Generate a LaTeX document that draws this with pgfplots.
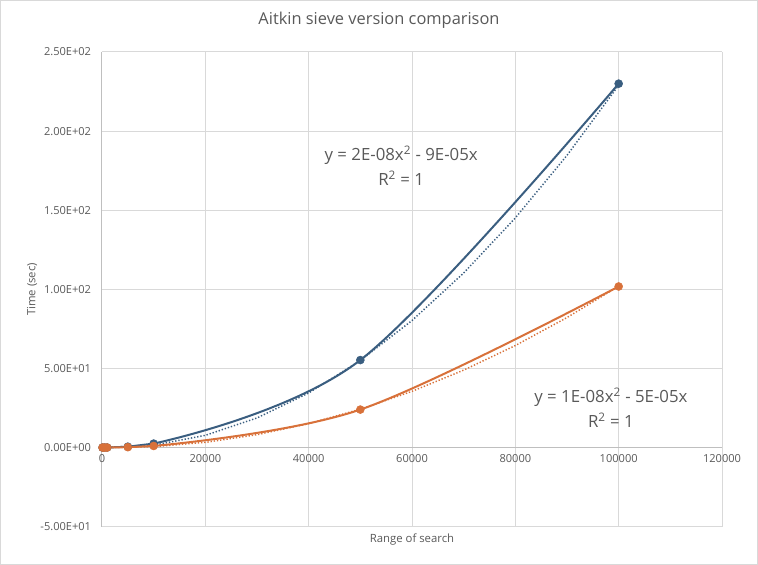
\documentclass[border=0pt]{standalone}
\usepackage{fontspec}
\setmainfont{Open Sans}
\usepackage{pgfplots}
\pgfplotsset{compat=1.18}
\definecolor{clrBlue}{RGB}{58,94,128}
\definecolor{clrOrange}{RGB}{216,113,58}
\definecolor{clrGrid}{RGB}{217,217,217}
\definecolor{clrAxis}{RGB}{191,191,191}
\definecolor{clrText}{RGB}{89,89,89}

% measured data (x = range of search, y = time in sec)
\pgfplotstableread{
x       y
100     0.0002
500     0.005
1000    0.02
5000    0.55
10000   2.5
50000   55.3
100000  230
}\blueData
\pgfplotstableread{
x       y
100     0.0001
500     0.003
1000    0.01
5000    0.25
10000   1.0
50000   24
100000  101.8
}\orangeData
% polynomial trendlines, values typed at 10000 steps
\pgfplotstableread{
x       y
0       0
10000   1.48
20000   7.72
30000   18.72
40000   34.48
50000   55.0
60000   80.28
70000   110.32
80000   145.12
90000   184.68
100000  229.0
}\blueTrend
\pgfplotstableread{
x       y
0       0
10000   0.57
20000   3.28
30000   8.13
40000   15.12
50000   24.25
60000   35.52
70000   48.93
80000   64.48
90000   82.17
100000  102.0
}\orangeTrend

\begin{document}
\begin{tikzpicture}
\begin{axis}[
  scale only axis, width=465pt, height=356pt,
  xmin=0, xmax=120000, ymin=-50, ymax=250,
  axis x line=middle, axis y line=left,
  axis line style={-, clrAxis, line width=0.75pt},
  hide obscured x ticks=false, hide obscured y ticks=false,
  major tick length=0pt,
  scaled x ticks=false, scaled y ticks=false,
  xtick={0,20000,40000,60000,80000,100000,120000},
  xticklabels={0,20000,40000,60000,80000,100000,120000},
  ytick={-50,0,50,100,150,200,250},
  yticklabels={-5.00E+01,0.00E+00,5.00E+01,1.00E+02,1.50E+02,2.00E+02,2.50E+02},
  grid=major, grid style={clrGrid, line width=0.75pt},
  tick label style={font=\fontsize{8.3}{10}\selectfont, color=clrText},
  xticklabel style={anchor=north, inner sep=0pt, yshift=-5pt},
  yticklabel style={anchor=east, inner sep=0pt, xshift=-8pt},
  label style={font=\fontsize{8.5}{10}\selectfont, color=clrText},
  xlabel={Range of search},
  xlabel style={at={(axis description cs:0.5,0)}, anchor=center, yshift=-9.75pt},
  ylabel={Time (sec)},
  ylabel style={at={([xshift=-52.5pt]axis description cs:0,0.5)}, anchor=center},
]
\addplot[clrBlue, line width=1.1pt, dash pattern=on 1pt off 1.4pt] table[x=x,y=y] {\blueTrend};
\addplot[clrOrange, line width=1.1pt, dash pattern=on 1pt off 1.4pt] table[x=x,y=y] {\orangeTrend};

% series lines: straight near the origin, smoothed from 10000 on
\addplot[clrBlue, line width=1.5pt, no marks, restrict x to domain=0:10000] table[x=x,y=y] {\blueData};
\addplot[clrBlue, line width=1.5pt, no marks, smooth, tension=0.55, restrict x to domain=10000:100000] table[x=x,y=y] {\blueData};
\addplot[clrOrange, line width=1.5pt, no marks, restrict x to domain=0:10000] table[x=x,y=y] {\orangeData};
\addplot[clrOrange, line width=1.5pt, no marks, smooth, tension=0.55, restrict x to domain=10000:100000] table[x=x,y=y] {\orangeData};

\addplot[only marks, mark=*, mark size=3pt, clrBlue, fill=clrBlue] table[x=x,y=y] {\blueData};
\addplot[only marks, mark=*, mark size=3pt, clrOrange, fill=clrOrange] table[x=x,y=y] {\orangeData};

\node[font=\fontsize{12.6}{15}\selectfont, color=clrText] at (axis cs:57900,184.8) {y = 2E-08x\textsuperscript{2} - 9E-05x};
\node[font=\fontsize{12.6}{15}\selectfont, color=clrText] at (axis cs:57900,170.3) {R\textsuperscript{2} = 1};
\node[font=\fontsize{12.6}{15}\selectfont, color=clrText] at (axis cs:98500,31.6) {y = 1E-08x\textsuperscript{2} - 5E-05x};
\node[font=\fontsize{12.6}{15}\selectfont, color=clrText] at (axis cs:98500,17.1) {R\textsuperscript{2} = 1};

\coordinate (ll) at (rel axis cs:0,0);
\coordinate (ur) at (rel axis cs:1,1);
\end{axis}
\path[use as bounding box] ([xshift=-76.5pt,yshift=-28.5pt]ll) rectangle ([xshift=27pt,yshift=39pt]ur);
\draw[clrGrid, line width=0.75pt] ([xshift=-76.1pt,yshift=-28.1pt]ll) rectangle ([xshift=26.6pt,yshift=38.6pt]ur);
\node[font=\fontsize{12.3}{15}\selectfont, color=clrText] at ([xshift=207.75pt,yshift=380pt]ll) {Aitkin sieve version comparison};
\end{tikzpicture}
\end{document}
